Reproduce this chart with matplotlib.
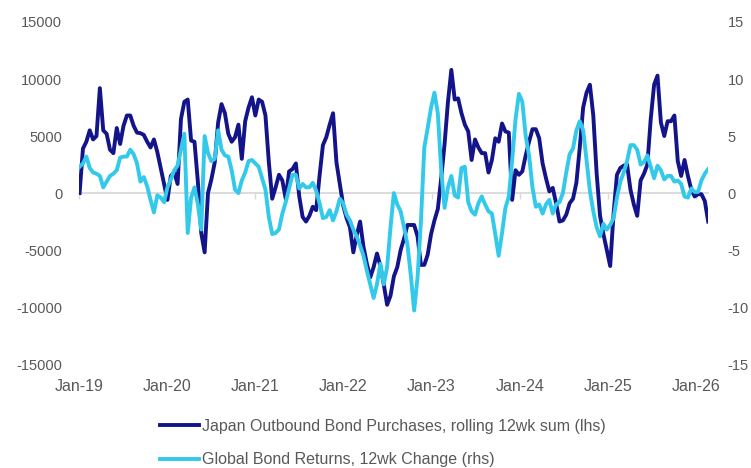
import matplotlib
matplotlib.use("Agg")
import matplotlib.pyplot as plt
import matplotlib.dates as mdates
import pandas as pd

plt.rcParams['font.family'] = ['Liberation Sans', 'DejaVu Sans']
plt.rcParams['axes.unicode_minus'] = False

# biweekly observations, Jan 2019 -> Feb 2026
start_date = "2019-01-04"

japan_bond_purchases = [
    0, 3900, 4500, 5500, 4700, 5000, 9200, 5500, 5200, 3800,
    3500, 5700, 4300, 5900, 6800, 6800, 5900, 5300, 5250, 5100,
    4500, 4000, 4700, 3600, 2200, 800, -600, 1500, 1800, 800,
    6500, 8000, 8200, 4600, 4500, 1000, -3500, -5200, 0, 1200,
    2700, 6200, 7800, 7000, 5200, 4500, 4900, 6000, 3000, 6300,
    7500, 8400, 6800, 8200, 8000, 6800, 2700, -500, 500, 1600,
    1100, -500, 1900, 2100, 2600, -300, -2100, -2500, -2000, -1200,
    -1500, 1500, 4200, 4900, 6000, 7000, 2700, 800, -1100, -2200,
    -3000, -5200, -3700, -2500, -4700, -6200, -7400, -6500, -5300, -6400,
    -8000, -9800, -9000, -7300, -6500, -5000, -4000, -2800, -2800, -2800,
    -3800, -6300, -6300, -5400, -3600, -2400, -1400, 1300, 4300, 8000,
    10800, 8200, 8300, 7000, 6000, 5400, 2900, 4700, 4000, 3500,
    3500, 1800, 2900, 4800, 4500, 6100, 5400, 5300, -600, 2000,
    1600, 1900, 3300, 4500, 5600, 5600, 4800, 2600, 1300, 150,
    450, -900, -2500, -2400, -1900, -900, -500, 900, 4000, 7500,
    8800, 9500, 6800, 1700, -2000, -3600, -5000, -6400, -1800, 1600,
    2200, 2400, 2500, 300, -1000, -2000, 1100, 1700, 2500, 6500,
    9500, 10300, 6200, 5000, 6300, 6300, 6800, 2800, 1500, 2900,
    1500, 300, -300, -100, -100, -700, -2500,
]

global_bond_returns = [
    2.3, 2.6, 3.2, 2.2, 1.8, 1.7, 1.5, 0.5, 1.0, 1.5,
    1.7, 2.0, 3.1, 3.2, 3.2, 3.8, 3.4, 2.6, 1.0, 1.4,
    0.6, -0.6, -1.7, -0.2, -0.4, -0.8, 0.5, 1.2, 2.0, 2.4,
    3.8, 5.2, -3.5, -0.4, 0.5, -1.0, -3.2, 5.0, 3.5, 2.8,
    3.0, 5.5, 3.8, 3.3, 3.2, 2.0, 0.3, 0.0, 1.1, 1.8,
    2.8, 2.9, 2.6, 2.3, 1.3, 0.3, -2.1, -3.6, -3.5, -3.2,
    -1.8, -0.8, 0.4, 1.6, 1.6, 0.4, 0.8, 0.5, 0.5, 0.9,
    0.2, -0.9, -2.2, -2.1, -1.5, -2.4, -1.6, -0.5, -0.9, -1.9,
    -2.4, -3.2, -3.8, -4.6, -5.5, -6.8, -8.0, -9.2, -8.0, -6.2,
    -8.0, -6.5, -3.0, 0.0, -1.0, -1.6, -3.0, -4.5, -7.2, -10.3,
    -7.4, -2.5, 4.0, 5.7, 7.5, 8.8, 7.0, 2.0, -1.3, 0.5,
    1.5, -0.2, -0.4, 2.2, 2.3, -0.8, -1.6, -1.9, -0.9, -0.3,
    -1.0, -1.6, -1.8, -3.6, -5.5, -3.5, -1.3, -0.3, 2.9, 6.5,
    8.7, 8.0, 5.0, 3.3, 0.5, -1.2, -1.0, -1.8, -1.0, -0.6,
    -1.8, -1.0, -0.8, 0.0, 1.8, 3.4, 3.9, 5.5, 6.3, 5.5,
    2.9, 0.2, -1.6, -3.0, -3.8, -2.7, -3.2, -2.8, -2.2, -0.4,
    1.0, 1.8, 2.8, 4.2, 4.2, 3.8, 2.5, 2.7, 3.3, 2.3,
    1.3, 2.4, 2.0, 1.2, 1.5, 1.5, 1.0, 1.1, 0.8, -0.3,
    -0.4, 0.4, 0.1, 0.1, 1.1, 1.7, 2.1,
]

left_ticks = [-15000, -10000, -5000, 0, 5000, 10000, 15000]
right_ticks = [-15, -10, -5, 0, 5, 10, 15]
year_ticks = ["2019", "2020", "2021", "2022", "2023", "2024", "2025", "2026"]

label_navy = "Japan Outbound Bond Purchases, rolling 12wk sum (lhs)"
label_cyan = "Global Bond Returns, 12wk Change (rhs)"

navy = "#14148a"
cyan = "#33c9ea"
grey_txt = "#595959"

dates = pd.date_range(start_date, periods=len(japan_bond_purchases), freq="14D")

fig = plt.figure(figsize=(7.51, 4.68), dpi=100)
ax = fig.add_axes([0.105, 0.222, 0.838, 0.731])
ax2 = ax.twinx()

l1, = ax.plot(dates, japan_bond_purchases, color=navy, lw=2.8, solid_joinstyle="round")
l2, = ax2.plot(dates, global_bond_returns, color=cyan, lw=2.8, solid_joinstyle="round")

ax.set_xlim(pd.Timestamp("2019-01-01"), dates[-1])
ax.set_ylim(-15000, 15000)
ax2.set_ylim(-15, 15)
ax.set_yticks(left_ticks)
ax2.set_yticks(right_ticks)

for a in (ax, ax2):
    for s in a.spines.values():
        s.set_visible(False)
    a.tick_params(axis="y", length=0, labelsize=10.5, labelcolor=grey_txt)
ax.tick_params(axis="y", pad=12)
ax2.tick_params(axis="y", pad=14)

# horizontal axis line crosses at zero, with the tick marks
ax.spines["bottom"].set_visible(True)
ax.spines["bottom"].set_position(("data", 0))
ax.spines["bottom"].set_color("#d9d9d9")
ax.spines["bottom"].set_linewidth(1.3)
ax.spines["bottom"].set_zorder(0)
xt = [pd.Timestamp(y + "-01-01") for y in year_ticks]
ax.set_xticks(xt)
ax.tick_params(axis="x", length=4, width=1, color="#d9d9d9", direction="out", labelbottom=False)

# labels sit at the bottom of the plot
sec = ax.secondary_xaxis(0)
sec.set_xticks(xt)
sec.xaxis.set_major_formatter(mdates.DateFormatter("%b-%y"))
sec.tick_params(axis="x", length=0, pad=11, labelsize=11.5, labelcolor=grey_txt)
sec.spines["bottom"].set_visible(False)

fig.legend([l1, l2], [label_navy, label_cyan], loc="upper left",
           bbox_to_anchor=(0.213, 0.105), frameon=False, ncol=1,
           handlelength=2.45, handletextpad=0.2, labelspacing=1.15,
           borderaxespad=0, borderpad=0, fontsize=11.5, labelcolor=grey_txt)

fig.savefig("out.png", dpi=100)
